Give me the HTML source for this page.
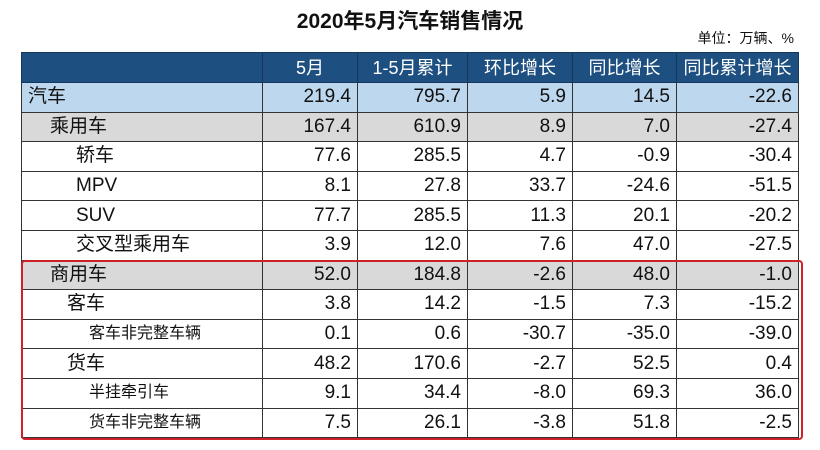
<!DOCTYPE html>
<html><head><meta charset="utf-8"><style>
body{margin:0;width:820px;height:450px;background:#fff;position:relative;overflow:hidden;font-family:"Liberation Sans","Noto Sans CJK SC",sans-serif;color:#111}
#title{position:absolute;left:0;width:820px;top:8px;text-align:center;font-size:21px;font-weight:bold;line-height:28px}
#unit{position:absolute;right:26px;top:29px;font-size:14px;line-height:18px}
table{position:absolute;left:21px;top:52px;border-collapse:collapse;table-layout:fixed}
td,th{border:1px solid #333;height:29.6px;padding:0 6px;font-size:19px;line-height:20px;text-align:right;white-space:nowrap;box-sizing:border-box;vertical-align:middle;overflow:hidden}
th{background:#1d4f80;color:#fff;font-weight:normal;text-align:center;height:30px;font-size:18px;border-color:#15375c}
td.n{text-align:left}
tr.blue td{background:#bdd7ee}
tr.gray td{background:#d9d9d9}
.s{font-size:16px}
#box{position:absolute;left:21px;top:260px;width:782px;height:180px;border:2.5px solid #d0202a;border-radius:4px;box-sizing:border-box}
</style></head><body>
<div id="title">2020年5月汽车销售情况</div>
<div id="unit">单位：万辆、%</div>
<table>
<colgroup><col style="width:241px"><col style="width:95px"><col style="width:110px"><col style="width:105px"><col style="width:104px"><col style="width:122px"></colgroup>
<tr><th></th><th>5月</th><th>1-5月累计</th><th>环比增长</th><th>同比增长</th><th>同比累计增长</th></tr>
<tr class="blue"><td class="n">汽车</td><td>219.4</td><td>795.7</td><td>5.9</td><td>14.5</td><td>-22.6</td></tr>
<tr class="gray"><td class="n" style="padding-left:28px">乘用车</td><td>167.4</td><td>610.9</td><td>8.9</td><td>7.0</td><td>-27.4</td></tr>
<tr><td class="n" style="padding-left:54px">轿车</td><td>77.6</td><td>285.5</td><td>4.7</td><td>-0.9</td><td>-30.4</td></tr>
<tr><td class="n" style="padding-left:54px">MPV</td><td>8.1</td><td>27.8</td><td>33.7</td><td>-24.6</td><td>-51.5</td></tr>
<tr><td class="n" style="padding-left:54px">SUV</td><td>77.7</td><td>285.5</td><td>11.3</td><td>20.1</td><td>-20.2</td></tr>
<tr><td class="n" style="padding-left:54px">交叉型乘用车</td><td>3.9</td><td>12.0</td><td>7.6</td><td>47.0</td><td>-27.5</td></tr>
<tr class="gray"><td class="n" style="padding-left:28px">商用车</td><td>52.0</td><td>184.8</td><td>-2.6</td><td>48.0</td><td>-1.0</td></tr>
<tr><td class="n" style="padding-left:45px">客车</td><td>3.8</td><td>14.2</td><td>-1.5</td><td>7.3</td><td>-15.2</td></tr>
<tr><td class="n s" style="padding-left:67px">客车非完整车辆</td><td>0.1</td><td>0.6</td><td>-30.7</td><td>-35.0</td><td>-39.0</td></tr>
<tr><td class="n" style="padding-left:45px">货车</td><td>48.2</td><td>170.6</td><td>-2.7</td><td>52.5</td><td>0.4</td></tr>
<tr><td class="n s" style="padding-left:67px">半挂牵引车</td><td>9.1</td><td>34.4</td><td>-8.0</td><td>69.3</td><td>36.0</td></tr>
<tr><td class="n s" style="padding-left:67px">货车非完整车辆</td><td>7.5</td><td>26.1</td><td>-3.8</td><td>51.8</td><td>-2.5</td></tr>
</table>
<div id="box"></div>
</body></html>
